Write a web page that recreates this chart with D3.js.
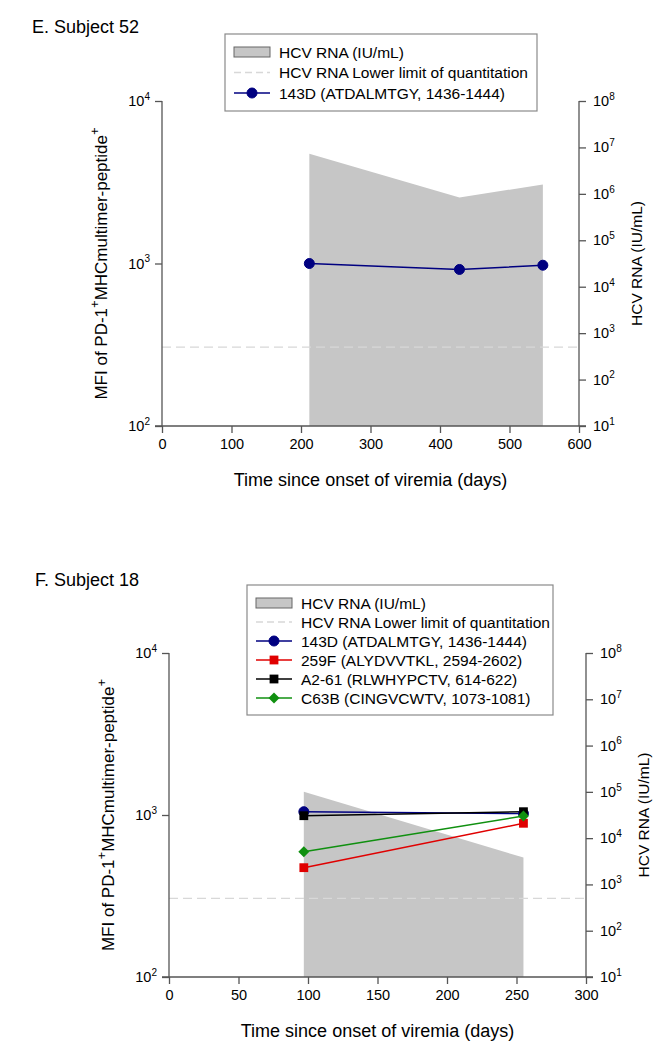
<!DOCTYPE html>
<html><head><meta charset="utf-8">
<script src="https://cdn.jsdelivr.net/npm/d3@7"></script>
<style>body{margin:0;background:#fff}svg{display:block}text{font-family:"Liberation Sans",Arial,sans-serif;fill:#000}</style>
</head><body>
<svg id="c" width="669" height="1050"></svg>
<script>
// ---------- data ----------
const xTicksE = [0, 100, 200, 300, 400, 500, 600];
const xTicksF = [0, 50, 100, 150, 200, 250, 300];
const leftTickExps = [2, 3, 4];
const rightTickExps = [1, 2, 3, 4, 5, 6, 7, 8];
const lloq = 500; // HCV RNA lower limit of quantitation (IU/mL)

const daysE = [212, 428, 548];
const rnaE = [7.3e6, 8.3e5, 1.6e6];
const mfiE_143D = [1000, 919, 976];

const daysF = [97, 255];
const rnaF = [1.0e5, 3.8e3];
const mfiF_143D = [1048, 1020];
const mfiF_259F = [473, 889];
const mfiF_A261 = [990, 1048];
const mfiF_C63B = [593, 986];

const seriesNames = ["143D (ATDALMTGY, 1436-1444)", "259F (ALYDVVTKL, 2594-2602)", "A2-61 (RLWHYPCTV, 614-622)", "C63B (CINGVCWTV, 1073-1081)"];
const seriesColors = ["#000080", "#e00000", "#000000", "#109010"];
const seriesShapes = ["circle", "square", "square", "diamond"];
const legendFixed = ["HCV RNA (IU/mL)", "HCV RNA Lower limit of quantitation"];

// ---------- drawing ----------
const svg = d3.select("#c");
const FONT = '"Liberation Sans",Arial,sans-serif';

function supLabel(sel, base, exp, size, supSize) {
  sel.append("tspan").text(base).attr("font-size", size);
  sel.append("tspan").text(exp).attr("font-size", supSize).attr("dy", -size * 0.42);
}

function marker(g, shape, x, y, color) {
  if (shape === "circle") {
    g.append("circle").attr("cx", x).attr("cy", y).attr("r", 5).attr("fill", color).attr("stroke", color);
  } else if (shape === "square") {
    g.append("rect").attr("x", x - 4.4).attr("y", y - 4.4).attr("width", 8.8).attr("height", 8.8).attr("fill", color);
  } else {
    const s = 5.5;
    g.append("path").attr("d", `M${x},${y - s}L${x + s},${y}L${x},${y + s}L${x - s},${y}Z`).attr("fill", color);
  }
}

function panel(cfg) {
  const g = svg.append("g");
  const x = d3.scaleLinear().domain([cfg.xTicks[0], cfg.xTicks[cfg.xTicks.length - 1]]).range([cfg.left, cfg.right]);
  const yL = d3.scaleLog().domain([1e2, 1e4]).range([cfg.bottom, cfg.top]);
  const yR = d3.scaleLog().domain([1e1, 1e8]).range([cfg.bottom, cfg.top]);

  // title
  g.append("text").attr("x", cfg.titleX).attr("y", cfg.titleY).attr("font-size", 18).text(cfg.title);

  // gray RNA area
  const area = d3.area().x(d => x(d[0])).y0(yR(1e1)).y1(d => yR(d[1]));
  g.append("path").datum(cfg.days.map((d, i) => [d, cfg.rna[i]])).attr("d", area).attr("fill", "#c6c6c6");

  // LLOQ dashed line
  g.append("line").attr("x1", cfg.left).attr("x2", cfg.right).attr("y1", yR(lloq)).attr("y2", yR(lloq))
    .attr("stroke", "#d8d8d8").attr("stroke-width", 1.3).attr("stroke-dasharray", "9,5");

  // axes
  const axCol = "#555";
  const xAxis = g.append("g").attr("transform", `translate(0,${cfg.bottom})`)
    .call(d3.axisBottom(x).tickValues(cfg.xTicks).tickSize(7).tickPadding(6).tickFormat(d3.format("d")));
  const yAxisL = g.append("g").attr("transform", `translate(${cfg.left},0)`)
    .call(d3.axisLeft(yL).tickValues(leftTickExps.map(e => Math.pow(10, e))).tickSize(7).tickFormat(""));
  const yAxisR = g.append("g").attr("transform", `translate(${cfg.right},0)`)
    .call(d3.axisRight(yR).tickValues(rightTickExps.map(e => Math.pow(10, e))).tickSize(7).tickFormat(""));
  [xAxis, yAxisL, yAxisR].forEach(a => {
    a.select(".domain").attr("stroke", axCol).attr("stroke-width", 1.3);
    a.selectAll(".tick line").attr("stroke", axCol).attr("stroke-width", 1.3);
  });
  xAxis.select(".domain").attr("d", `M${cfg.left - 7},0H${cfg.right + 7}`);
  yAxisL.select(".domain").attr("d", `M0,${cfg.top}V${cfg.bottom}`);
  yAxisR.select(".domain").attr("d", `M0,${cfg.top}V${cfg.bottom}`);
  xAxis.selectAll(".tick text").attr("font-size", 14.5).attr("font-family", FONT).attr("fill", "#000");

  leftTickExps.forEach(e => {
    const t = g.append("text").attr("x", cfg.left - 12).attr("y", yL(Math.pow(10, e)) + 5).attr("text-anchor", "end");
    supLabel(t, "10", String(e), 14.5, 10);
  });
  rightTickExps.forEach(e => {
    const t = g.append("text").attr("x", cfg.right + 14).attr("y", yR(Math.pow(10, e)) + 5).attr("text-anchor", "start");
    supLabel(t, "10", String(e), 14.5, 10);
  });

  // axis titles
  g.append("text").attr("x", (cfg.left + cfg.right) / 2).attr("y", cfg.bottom + 60).attr("text-anchor", "middle")
    .attr("font-size", 18).text("Time since onset of viremia (days)");
  const lt = g.append("text").attr("transform", `translate(${cfg.left - 55},${(cfg.top + cfg.bottom) / 2}) rotate(-90)`)
    .attr("text-anchor", "middle").attr("font-size", 17);
  lt.append("tspan").text("MFI of PD-1");
  lt.append("tspan").text("+").attr("font-size", 13).attr("dy", -8);
  lt.append("tspan").text("MHCmultimer-peptide").attr("dy", 8);
  lt.append("tspan").text("+").attr("font-size", 13).attr("dy", -8);
  g.append("text").attr("transform", `translate(${cfg.right + 63},${(cfg.top + cfg.bottom) / 2}) rotate(-90)`)
    .attr("text-anchor", "middle").attr("font-size", 15.5).text("HCV RNA (IU/mL)");

  // series
  cfg.series.forEach(s => {
    const line = d3.line().x((d, i) => x(cfg.days[i])).y(d => yL(d));
    g.append("path").datum(s.values).attr("d", line).attr("fill", "none").attr("stroke", s.color).attr("stroke-width", 1.5);
  });
  cfg.series.forEach(s => {
    s.values.forEach((v, i) => marker(g, s.shape, x(cfg.days[i]), yL(v), s.color));
  });

  // legend
  const L = cfg.legend;
  g.append("rect").attr("x", L.x).attr("y", L.y).attr("width", L.w).attr("height", L.h)
    .attr("fill", "#fff").attr("stroke", "#8a8a8a").attr("stroke-width", 1.2);
  const rowY = i => L.firstY + i * L.step;
  const sx = L.x + 9, sw = 36;
  g.append("rect").attr("x", sx).attr("y", rowY(0) - 5).attr("width", sw).attr("height", 10)
    .attr("fill", "#c6c6c6").attr("stroke", "#666").attr("stroke-width", 1);
  g.append("line").attr("x1", sx).attr("x2", sx + sw).attr("y1", rowY(1)).attr("y2", rowY(1))
    .attr("stroke", "#d8d8d8").attr("stroke-width", 1.3).attr("stroke-dasharray", "7,4");
  cfg.series.forEach((s, k) => {
    const yy = rowY(2 + k);
    g.append("line").attr("x1", sx).attr("x2", sx + sw).attr("y1", yy).attr("y2", yy).attr("stroke", s.color).attr("stroke-width", 1.5);
    marker(g, s.shape, sx + sw / 2, yy, s.color);
  });
  const labels = legendFixed.concat(cfg.series.map(s => s.name));
  labels.forEach((lab, i) => {
    g.append("text").attr("x", sx + sw + 9).attr("y", rowY(i) + 5.5).attr("font-size", 15.5).text(lab);
  });
}

panel({
  title: "E. Subject 52", titleX: 32, titleY: 33,
  left: 162, right: 579, top: 101, bottom: 426,
  xTicks: xTicksE, days: daysE, rna: rnaE,
  series: [{ name: seriesNames[0], color: seriesColors[0], shape: seriesShapes[0], values: mfiE_143D }],
  legend: { x: 225, y: 34, w: 312, h: 77, firstY: 52, step: 20.5 }
});

panel({
  title: "F. Subject 18", titleX: 35, titleY: 586,
  left: 169, right: 586, top: 653, bottom: 977,
  xTicks: xTicksF, days: daysF, rna: rnaF,
  series: [
    { name: seriesNames[0], color: seriesColors[0], shape: seriesShapes[0], values: mfiF_143D },
    { name: seriesNames[1], color: seriesColors[1], shape: seriesShapes[1], values: mfiF_259F },
    { name: seriesNames[2], color: seriesColors[2], shape: seriesShapes[2], values: mfiF_A261 },
    { name: seriesNames[3], color: seriesColors[3], shape: seriesShapes[3], values: mfiF_C63B }
  ],
  legend: { x: 247, y: 585, w: 306, h: 130, firstY: 603, step: 19 }
});
</script>
</body></html>
